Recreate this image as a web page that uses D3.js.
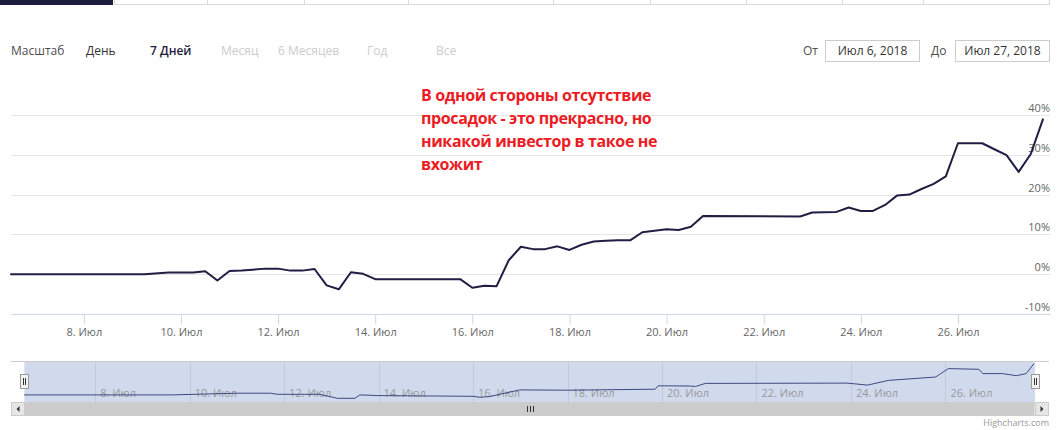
<!DOCTYPE html>
<html>
<head>
<meta charset="utf-8">
<script src="https://cdn.jsdelivr.net/npm/d3@7"></script>
<style>
  body { margin: 0; background: #fff; }
  svg { display: block; }
</style>
</head>
<body>
<div id="chart"></div>
<script>
// main series (percent change), vertices
const times = [
  "2018-07-06 12:00", "2018-07-09 06:00", "2018-07-09 18:00", "2018-07-10 06:00",
  "2018-07-10 12:00", "2018-07-10 18:00", "2018-07-11 00:00", "2018-07-11 06:00",
  "2018-07-11 18:00", "2018-07-12 00:00", "2018-07-12 06:00", "2018-07-12 12:00",
  "2018-07-12 18:00", "2018-07-13 00:00", "2018-07-13 06:00", "2018-07-13 12:00",
  "2018-07-13 18:00", "2018-07-14 00:00", "2018-07-15 18:00", "2018-07-16 00:00",
  "2018-07-16 06:00", "2018-07-16 12:00", "2018-07-16 18:00", "2018-07-17 00:00",
  "2018-07-17 06:00", "2018-07-17 12:00", "2018-07-17 18:00", "2018-07-18 00:00",
  "2018-07-18 06:00", "2018-07-18 12:00", "2018-07-18 18:00", "2018-07-19 00:00",
  "2018-07-19 06:00", "2018-07-19 12:00", "2018-07-19 18:00", "2018-07-20 00:00",
  "2018-07-20 06:00", "2018-07-20 12:00", "2018-07-20 18:00", "2018-07-22 18:00",
  "2018-07-23 00:00", "2018-07-23 12:00", "2018-07-23 18:00", "2018-07-24 00:00",
  "2018-07-24 06:00", "2018-07-24 12:00", "2018-07-24 18:00", "2018-07-25 00:00",
  "2018-07-25 06:00", "2018-07-25 12:00", "2018-07-25 18:00", "2018-07-26 00:00",
  "2018-07-26 12:00", "2018-07-26 18:00", "2018-07-27 00:00", "2018-07-27 06:00",
  "2018-07-27 12:00", "2018-07-27 18:00"
];
const values = [
  0, 0, 0.4, 0.4,
  0.75, -1.6, 0.8, 0.9,
  1.4, 1.4, 0.9, 0.9,
  1.3, -2.8, -3.8, 0.5,
  0.1, -1.25, -1.25, -3.4,
  -2.9, -3.0, 3.5, 6.9,
  6.3, 6.3, 7.0, 6.1,
  7.4, 8.2, 8.4, 8.5,
  8.5, 10.55, 10.9, 11.3,
  11.1, 11.9, 14.6, 14.5,
  15.5, 15.65, 16.75, 15.9,
  15.9, 17.4, 19.8, 20.0,
  21.4, 22.7, 24.6, 32.9,
  32.9, 31.4, 29.9, 25.7,
  30.2, 38.9
];

// navigator series (own scale)
const navTimes = [
  "2018-07-06 12:00", "2018-07-09 15:00", "2018-07-11 00:00", "2018-07-11 17:00",
  "2018-07-11 20:30", "2018-07-12 18:00", "2018-07-13 03:00", "2018-07-13 12:00",
  "2018-07-13 14:30", "2018-07-14 00:00", "2018-07-16 00:00", "2018-07-16 03:30",
  "2018-07-16 08:30", "2018-07-16 23:45", "2018-07-18 00:15", "2018-07-19 20:30",
  "2018-07-19 22:00", "2018-07-20 14:00", "2018-07-20 17:00", "2018-07-20 22:00",
  "2018-07-23 22:00", "2018-07-24 08:30", "2018-07-24 19:00", "2018-07-25 19:00",
  "2018-07-26 01:30", "2018-07-26 17:00", "2018-07-26 19:00", "2018-07-27 05:00",
  "2018-07-27 12:00", "2018-07-27 17:00", "2018-07-27 21:00"
];
const navValues = [
  7.1, 7.1, 8.8, 8.8,
  7.7, 7.7, 3.7, 3.7,
  7.1, 6.4, 5.7, 4.7,
  5.5, 12.1, 11.8, 12.8,
  16.2, 16.0, 15.5, 18.6,
  18.9, 16.9, 21.6, 25.0,
  33.4, 32.7, 28.4, 28.4,
  26.3, 28.4, 38.5
];

const xExtent = ["2018-07-06 12:00", "2018-07-27 21:30"];
const xTicks = [
  "2018-07-08 00:00", "2018-07-10 00:00", "2018-07-12 00:00", "2018-07-14 00:00",
  "2018-07-16 00:00", "2018-07-18 00:00", "2018-07-20 00:00", "2018-07-22 00:00",
  "2018-07-24 00:00", "2018-07-26 00:00"
];
const yTicks = [-10, 0, 10, 20, 30, 40];
const monthLabel = "Июл";

const rangeLabel = "Масштаб";
const rangeButtons = ["День", "7 Дней", "Месяц", "6 Месяцев", "Год", "Все"];
const fromLabel = "От";
const toLabel = "До";
const fromDate = "Июл 6, 2018";
const toDate = "Июл 27, 2018";

const noteLines = [
  "В одной стороны отсутствие",
  "просадок - это прекрасно, но",
  "никакой инвестор в такое не",
  "вхожит"
];
const credit = "Highcharts.com";

const FONT = "'Open Sans', sans-serif";
const width = 1061;
const height = 430;
const parse = d3.timeParse("%Y-%m-%d %H:%M");

const svg = d3.select("#chart")
  .append("svg")
  .attr("width", width)
  .attr("height", height)
  .attr("font-family", FONT);

// ---- tab strip at the very top
const tabEdges = [0, 114, 207, 304, 408, 553, 650, 746, 842, 923, 1049];
svg.append("line")
  .attr("x1", 114).attr("x2", 1049)
  .attr("y1", 4.5).attr("y2", 4.5)
  .attr("stroke", "#d9d9d9");
svg.selectAll(".tab-sep")
  .data(tabEdges.slice(1))
  .join("line")
  .attr("x1", (d) => d + 0.5).attr("x2", (d) => d + 0.5)
  .attr("y1", 0).attr("y2", 5)
  .attr("stroke", "#d9d9d9");
svg.append("rect")
  .attr("x", 0).attr("y", 0)
  .attr("width", 113).attr("height", 5)
  .attr("fill", "#1f1d3d");

// ---- range selector
svg.append("text")
  .attr("x", 11).attr("y", 55)
  .attr("font-size", 12)
  .attr("fill", "#4d4d4d")
  .text(rangeLabel);

const buttonX = [86, 150, 221, 278, 367, 436];
const buttonColor = ["#333333", "#1f1d3d", "#cccccc", "#cccccc", "#cccccc", "#cccccc"];
svg.selectAll(".rbtn")
  .data(rangeButtons)
  .join("text")
  .attr("x", (d, i) => buttonX[i])
  .attr("y", 55)
  .attr("font-size", 12)
  .attr("font-weight", (d, i) => (i === 1 ? 600 : 400))
  .attr("fill", (d, i) => buttonColor[i])
  .text((d) => d);

function dateBox(label, labelX, boxX, boxW, value) {
  svg.append("text")
    .attr("x", labelX).attr("y", 55)
    .attr("font-size", 12)
    .attr("fill", "#4d4d4d")
    .text(label);
  svg.append("rect")
    .attr("x", boxX + 0.5).attr("y", 40.5)
    .attr("width", boxW).attr("height", 21)
    .attr("fill", "#fff")
    .attr("stroke", "#cccccc");
  svg.append("text")
    .attr("x", boxX + boxW / 2 + 0.5).attr("y", 55)
    .attr("text-anchor", "middle")
    .attr("font-size", 12)
    .attr("fill", "#333333")
    .text(value);
}
dateBox(fromLabel, 803, 825, 94, fromDate);
dateBox(toLabel, 931, 955, 94, toDate);

// ---- main chart
const x = d3.scaleTime()
  .domain(xExtent.map(parse))
  .range([11, 1050]);

const y = d3.scaleLinear()
  .domain([-10, 40])
  .range([314, 115]);

const grid = svg.append("g");
grid.selectAll("line")
  .data(yTicks.filter((d) => d > -10))
  .join("line")
  .attr("x1", 11).attr("x2", 1050)
  .attr("y1", (d) => Math.round(y(d)) + 0.5)
  .attr("y2", (d) => Math.round(y(d)) + 0.5)
  .attr("stroke", "#e6e6e6");

const xAxis = svg.append("g")
  .attr("transform", `translate(0,${Math.round(y(-10)) + 0.5})`)
  .call(
    d3.axisBottom(x)
      .tickValues(xTicks.map(parse))
      .tickSize(10)
      .tickPadding(4)
      .tickSizeOuter(0)
      .tickFormat((d) => `${d.getDate()}. ${monthLabel}`)
  );
xAxis.select(".domain").attr("stroke", "#ccd6eb").attr("d", "M11,0H1050");
xAxis.selectAll(".tick line").attr("stroke", "#ccd6eb");
xAxis.selectAll(".tick text")
  .attr("font-family", FONT)
  .attr("font-size", 11)
  .attr("fill", "#666666");

const yAxis = svg.append("g");
yAxis.selectAll("text")
  .data(yTicks)
  .join("text")
  .attr("x", 1050)
  .attr("y", (d) => y(d) - 3)
  .attr("text-anchor", "end")
  .attr("font-size", 11)
  .attr("fill", "#666666")
  .text((d) => `${d}%`);

const series = times.map((t, i) => ({ date: parse(t), value: values[i] }));

const line = d3.line()
  .x((d) => x(d.date))
  .y((d) => y(d.value));

svg.append("path")
  .datum(series)
  .attr("fill", "none")
  .attr("stroke", "#201e42")
  .attr("stroke-width", 2)
  .attr("stroke-linejoin", "round")
  .attr("stroke-linecap", "round")
  .attr("d", line);

// ---- red note
svg.append("text")
  .attr("x", 421)
  .attr("y", 101)
  .attr("font-size", 16)
  .attr("font-weight", 700)
  .attr("letter-spacing", -0.38)
  .attr("fill", "#ec1c24")
  .selectAll("tspan")
  .data(noteLines)
  .join("tspan")
  .attr("x", 421)
  .attr("dy", (d, i) => (i === 0 ? 0 : 23))
  .text((d) => d);

// ---- navigator
const navTop = 362;
const navBottom = 402;
const xNav = d3.scaleTime()
  .domain(xExtent.map(parse))
  .range([24.3, 1035]);
const yNav = d3.scaleLinear()
  .domain([0, 40])
  .range([navBottom, navTop]);

svg.append("rect")
  .attr("x", xNav.range()[0]).attr("y", navTop)
  .attr("width", xNav.range()[1] - xNav.range()[0])
  .attr("height", navBottom - navTop)
  .attr("fill", "rgba(102,133,194,0.3)");

svg.append("g")
  .selectAll("line")
  .data(xTicks.map(parse))
  .join("line")
  .attr("x1", (d) => Math.round(xNav(d)) + 0.5)
  .attr("x2", (d) => Math.round(xNav(d)) + 0.5)
  .attr("y1", navTop).attr("y2", navBottom)
  .attr("stroke", "#c2c9da");

svg.append("g")
  .selectAll("text")
  .data(xTicks.map(parse))
  .join("text")
  .attr("x", (d) => xNav(d) + 5)
  .attr("y", 397)
  .attr("font-size", 11)
  .attr("fill", "#999999")
  .text((d) => `${d.getDate()}. ${monthLabel}`);

const navSeries = navTimes.map((t, i) => ({ date: parse(t), value: navValues[i] }));
svg.append("path")
  .datum(navSeries)
  .attr("fill", "none")
  .attr("stroke", "#3b4a80")
  .attr("stroke-width", 1)
  .attr("d", d3.line().x((d) => xNav(d.date)).y((d) => yNav(d.value)));

svg.append("line")
  .attr("x1", 11).attr("x2", 1049)
  .attr("y1", navTop - 0.5).attr("y2", navTop - 0.5)
  .attr("stroke", "#cccccc");

function handle(cx) {
  const g = svg.append("g").attr("transform", `translate(${Math.round(cx)},374)`);
  g.append("rect")
    .attr("x", -3.5).attr("y", 0.5)
    .attr("width", 8).attr("height", 14)
    .attr("fill", "#f2f2f2")
    .attr("stroke", "#999999");
  g.append("path")
    .attr("d", "M-0.5,4V11M1.5,4V11")
    .attr("stroke", "#333333");
}
handle(xNav.range()[0]);
handle(xNav.range()[1]);

// ---- scrollbar
const sbTop = 402;
const sbH = 14;
svg.append("rect")
  .attr("x", 11).attr("y", sbTop)
  .attr("width", 1038).attr("height", sbH)
  .attr("fill", "#f2f2f2");
svg.append("rect")
  .attr("x", 24.5).attr("y", sbTop)
  .attr("width", 1010).attr("height", sbH)
  .attr("fill", "#cccccc");
svg.append("path")
  .attr("d", `M527.5,${sbTop + 4}v6M530.5,${sbTop + 4}v6M533.5,${sbTop + 4}v6`)
  .attr("stroke", "#333333");

function sbButton(bx, dir) {
  svg.append("rect")
    .attr("x", bx + 0.5).attr("y", sbTop + 0.5)
    .attr("width", 13).attr("height", sbH - 1)
    .attr("fill", "#e6e6e6")
    .attr("stroke", "#cccccc");
  const cx = bx + 7;
  const cy = sbTop + sbH / 2;
  svg.append("path")
    .attr("d", dir < 0
      ? `M${cx + 1.5},${cy - 3}L${cx - 1.5},${cy}L${cx + 1.5},${cy + 3}Z`
      : `M${cx - 1.5},${cy - 3}L${cx + 1.5},${cy}L${cx - 1.5},${cy + 3}Z`)
    .attr("fill", "#333333");
}
sbButton(11, -1);
sbButton(1035, 1);

svg.append("text")
  .attr("x", 1049).attr("y", 426)
  .attr("text-anchor", "end")
  .attr("font-size", 9)
  .attr("fill", "#999999")
  .text(credit);
</script>
</body>
</html>
